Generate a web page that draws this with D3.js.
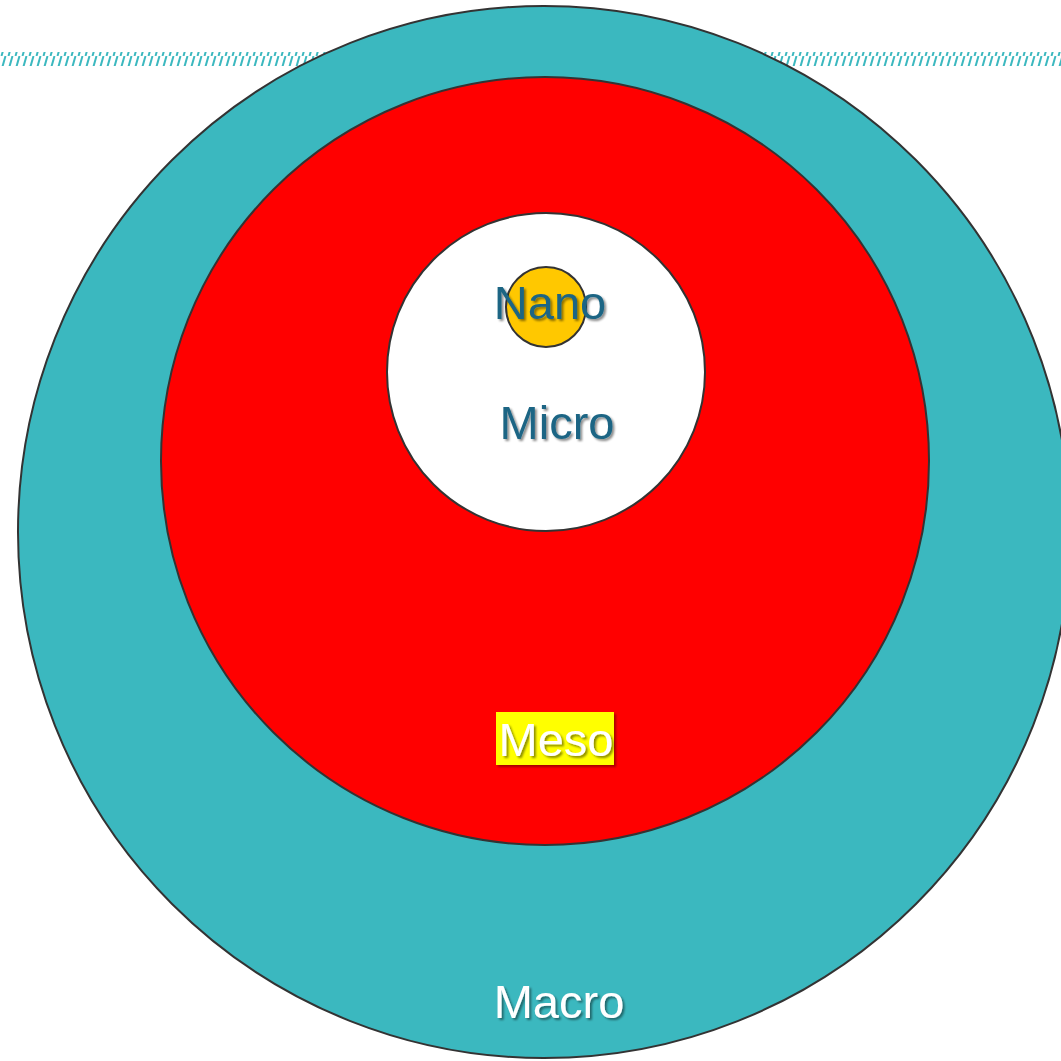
<!DOCTYPE html>
<html>
<head>
<meta charset="utf-8">
<script src="https://cdn.jsdelivr.net/npm/d3@7"></script>
<style>
  html, body { margin: 0; padding: 0; background: #fff; }
  svg { display: block; }
</style>
</head>
<body>
<script>
// Nested scale levels, outermost first
const levels = ["Macro", "Meso", "Micro", "Nano"];
const levelSize = [526, 384, 159, 40];          // relative extent of each level
const levelFill = ["#3BB8BF", "#FF0000", "#FFFFFF", "#FFC800"];
const labelColor = ["#FFFFFF", "#FFFFFF", "#1B6584", "#1B6584"];

const W = 1061, H = 1061;
const svg = d3.select("body").append("svg").attr("width", W).attr("height", H);

const defs = svg.append("defs");
const pat = defs.append("pattern")
  .attr("id", "hatch").attr("patternUnits", "userSpaceOnUse")
  .attr("width", 7).attr("height", 14);
pat.append("line").attr("x1", 1.5).attr("y1", 14).attr("x2", 5.5).attr("y2", 0)
  .attr("stroke", "#3BB8BF").attr("stroke-width", 2);

const shadow = defs.append("filter").attr("id", "shadow")
  .attr("x", "-10%").attr("y", "-20%").attr("width", "130%").attr("height", "150%");
shadow.append("feDropShadow").attr("dx", 2).attr("dy", 2).attr("stdDeviation", 1.2)
  .attr("flood-color", "#000").attr("flood-opacity", 0.45);

const boxShadow = defs.append("filter").attr("id", "boxShadow")
  .attr("x", "-10%").attr("y", "-20%").attr("width", "130%").attr("height", "150%");
boxShadow.append("feDropShadow").attr("dx", 2).attr("dy", 2).attr("stdDeviation", 1)
  .attr("flood-color", "#000").attr("flood-opacity", 0.35);

// decorative hatched band across the top
svg.append("rect").attr("x", 0).attr("y", 52).attr("width", W).attr("height", 14)
  .attr("fill", "url(#hatch)");

const r = d3.scaleLinear().domain([0, levelSize[0]]).range([0, 526]);

// each level sits near the top of its parent
const centers = [[544, 532], [545, 461], [546, 372], [546, 307]];

const rows = levels.map((name, i) => ({
  name, size: levelSize[i], fill: levelFill[i], color: labelColor[i],
  cx: centers[i][0], cy: centers[i][1]
}));

svg.selectAll("circle.level").data(rows).join("circle")
  .attr("class", "level")
  .attr("cx", d => d.cx).attr("cy", d => d.cy)
  .attr("r", d => r(d.size))
  .attr("fill", d => d.fill)
  .attr("stroke", "#333333").attr("stroke-width", 2);

// label anchors
const labelPos = { Macro: [559, 1018], Meso: [556, 756], Micro: [557, 439], Nano: [550, 319] };

// highlight box behind Meso
svg.append("rect").attr("x", 496).attr("y", 712).attr("width", 118).attr("height", 53)
  .attr("fill", "#FFFF00").attr("filter", "url(#boxShadow)");

svg.selectAll("text.label").data(rows).join("text")
  .attr("class", "label")
  .attr("x", d => labelPos[d.name][0]).attr("y", d => labelPos[d.name][1])
  .attr("text-anchor", "middle")
  .attr("font-family", "Liberation Sans, Arial, sans-serif")
  .attr("font-size", 47)
  .attr("fill", d => d.color)
  .attr("filter", "url(#shadow)")
  .text(d => d.name);
</script>
</body>
</html>
